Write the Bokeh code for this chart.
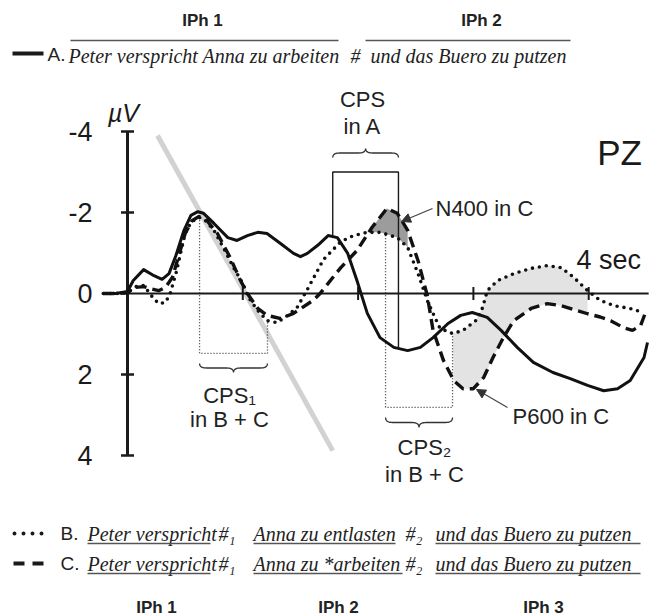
import numpy as np
from bokeh.plotting import figure
from bokeh.models import Range1d, Arrow, NormalHead
from bokeh.core.properties import value
from bokeh.embed import file_html
from bokeh.resources import INLINE

# ---------------- data ----------------
y_ticks = [-4, -2, 0, 2, 4]
y_tick_labels = ["-4", "-2", "0", "2", "4"]
x_ticks = [1, 2, 3, 4]
x_unit_label = "4 sec"
x_axis_end = 4.52

# A: solid
t_a = [-0.21, -0.10, 0.00, 0.05, 0.14, 0.23, 0.30, 0.36, 0.42, 0.49, 0.55, 0.61, 0.66, 0.75, 0.87,
       0.95, 1.04, 1.13, 1.21, 1.33, 1.44, 1.50, 1.56, 1.65, 1.74, 1.82, 1.91, 1.99, 2.08, 2.19,
       2.31, 2.43, 2.54, 2.65, 2.78, 2.89, 2.99, 3.12, 3.24, 3.38, 3.52, 3.69, 3.84, 3.99, 4.13,
       4.25, 4.36, 4.48, 4.51]
v_a = [0, 0, -0.05, -0.32, -0.59, -0.44, -0.35, -0.49, -0.94, -1.56, -1.93, -2.02, -1.98, -1.73, -1.38,
       -1.31, -1.43, -1.51, -1.48, -1.23, -0.99, -0.91, -0.99, -1.19, -1.43, -1.38, -0.99, -0.32, 0.49, 1.09,
       1.33, 1.41, 1.33, 1.09, 0.74, 0.54, 0.47, 0.59, 0.91, 1.33, 1.70, 1.95, 2.10, 2.27, 2.40,
       2.35, 2.15, 1.58, 1.21]

# B: dotted
t_b = [-0.21, -0.10, 0.00, 0.07, 0.14, 0.22, 0.27, 0.33, 0.37, 0.42, 0.46, 0.50, 0.55, 0.61, 0.66,
       0.75, 0.83, 0.92, 1.00, 1.05, 1.13, 1.21, 1.30, 1.39, 1.47, 1.56, 1.70, 1.85, 1.96, 2.08,
       2.19, 2.34, 2.43, 2.52, 2.60, 2.65, 2.71, 2.82, 2.91, 3.02, 3.08, 3.12, 3.21, 3.35, 3.50,
       3.64, 3.76, 3.87, 3.99, 4.10, 4.22, 4.36, 4.47]
v_b = [0, 0, -0.02, -0.17, -0.20, 0.10, 0.25, 0.22, 0.0, -0.49, -0.99, -1.48, -1.75, -1.88, -1.85,
       -1.56, -1.14, -0.64, -0.25, 0.10, 0.42, 0.67, 0.72, 0.54, 0.35, -0.10, -0.84, -1.28, -1.43, -1.51,
       -1.51, -1.38, -1.14, -0.49, 0.17, 0.49, 0.86, 0.99, 0.91, 0.67, 0.35, -0.07, -0.32, -0.49, -0.62,
       -0.69, -0.64, -0.40, -0.07, 0.17, 0.30, 0.37, 0.47]

# C: dashed
t_c = [-0.21, -0.10, 0.00, 0.07, 0.14, 0.20, 0.27, 0.33, 0.39, 0.44, 0.50, 0.56, 0.62, 0.69, 0.78,
       0.89, 0.98, 1.04, 1.13, 1.21, 1.33, 1.44, 1.61, 1.67, 1.85, 1.99, 2.12, 2.25, 2.34, 2.43,
       2.52, 2.60, 2.65, 2.74, 2.83, 2.91, 3.00, 3.09, 3.17, 3.26, 3.35, 3.50, 3.64, 3.76, 3.90,
       3.99, 4.10, 4.19, 4.30, 4.38, 4.45, 4.49]
v_c = [0, 0, -0.02, -0.15, -0.17, -0.12, -0.07, -0.15, -0.40, -0.89, -1.48, -1.80, -1.90, -1.80, -1.48,
       -0.89, -0.32, 0.0, 0.37, 0.54, 0.62, 0.49, 0.17, 0.0, -0.64, -1.06, -1.63, -2.10, -1.98, -1.56,
       -0.81, 0.05, 0.91, 1.65, 2.15, 2.35, 2.35, 2.07, 1.58, 1.09, 0.67, 0.37, 0.25, 0.30, 0.42,
       0.50, 0.58, 0.67, 0.84, 0.91, 0.79, 0.49]

# CPS windows (s) and box edges (µV)
cpsA_window = [1.78, 2.35]
cpsA_top = -3.0
cpsA_feet = [-1.43, 1.33]
cps1_window = [0.625, 1.214]
cps1_bottom = 1.48
cps1_heads = [-1.88, 0.67]
cps2_window = [2.238, 2.819]
cps2_bottom = 2.81
cps2_heads = [-1.51, 0.99]

# effect windows (s)
n400_window = [2.05, 2.45]
p600_window = [2.80, 4.00]

# grey slope line
slope_t = [0.26, 1.78]
slope_v = [-3.9, 3.88]

# ---------------- layout helpers ----------------
W, H = 649, 616
PX_PER_S, PX_PER_UV = 115.3, 40.5
X0_PX, Y0_PX = 127, 293


def tx(px):
    return (px - X0_PX) / PX_PER_S


def vy(py):
    return (py - Y0_PX) / PX_PER_UV


p = figure(width=W, height=H, output_backend="svg", toolbar_location=None,
           x_range=Range1d(tx(0), tx(W)), y_range=Range1d(vy(H), vy(0)),
           x_axis_type=None, y_axis_type=None, min_border=0)
p.outline_line_color = None
p.background_fill_color = "white"
p.border_fill_color = "white"

INK = "#1a1a1a"
SANS = value("Liberation Sans")
SERIF = value("Liberation Serif")


def band(t1, v1, t2, v2, win):
    a = [(t, v) for t, v in zip(t1, v1) if win[0] <= t <= win[1]]
    b = [(t, v) for t, v in zip(t2, v2) if win[0] <= t <= win[1]][::-1]
    pts = a + b
    return [q[0] for q in pts], [q[1] for q in pts]


# shaded effects
xs, ys = band(t_b, v_b, t_c, v_c, p600_window)
p.patch(xs, ys, fill_color="#e3e3e3", line_color=None)
xs, ys = band(t_c, v_c, t_b, v_b, n400_window)
p.patch(xs, ys, fill_color="#9c9c9c", line_color=None)

# grey slope
p.line(slope_t, slope_v, line_color="#d2d2d2", line_width=5)

# axes
p.line([0, 0], [min(y_ticks), max(y_ticks)], line_color=INK, line_width=3)
p.line([0, x_axis_end], [0, 0], line_color=INK, line_width=2)
p.scatter([0] * 4, [v for v in y_ticks if v != 0], marker="dash", size=13,
          line_color=INK, line_width=2.5)
p.scatter(x_ticks, [0] * len(x_ticks), marker="dash", angle=np.pi / 2, size=13,
          line_color=INK, line_width=2)

# CPS boxes
p.line([cpsA_window[0], cpsA_window[0], cpsA_window[1], cpsA_window[1]],
       [cpsA_feet[0], cpsA_top, cpsA_top, cpsA_feet[1]], line_color=INK, line_width=1.4)
for win, bot, heads in [(cps1_window, cps1_bottom, cps1_heads), (cps2_window, cps2_bottom, cps2_heads)]:
    p.line([win[0], win[0], win[1], win[1]], [heads[0], bot, bot, heads[1]],
           line_color="#333", line_width=1.3, line_dash="1 2")


def quad(p0, c, p1, n=10):
    s = np.linspace(0, 1, n)
    x = (1 - s) ** 2 * p0[0] + 2 * (1 - s) * s * c[0] + s ** 2 * p1[0]
    y = (1 - s) ** 2 * p0[1] + 2 * (1 - s) * s * c[1] + s ** 2 * p1[1]
    return list(x), list(y)


def brace(x0, x1, y_end, y_tip, r_px=7):
    xm = (x0 + x1) / 2
    ym = (y_end + y_tip) / 2
    r = r_px / PX_PER_S
    X, Y = [], []
    for seg in [((x0, y_end), (x0, ym), (x0 + r, ym)),
                ((xm - r, ym), (xm, ym), (xm, y_tip)),
                ((xm, y_tip), (xm, ym), (xm + r, ym)),
                ((x1 - r, ym), (x1, ym), (x1, y_end))]:
        a, b = quad(*seg)
        X += a
        Y += b
    return X, Y


for win, ye, yt in [(cpsA_window, vy(157), vy(148)), (cps1_window, vy(363), vy(372)),
                    (cps2_window, vy(417), vy(427))]:
    bx, by = brace(win[0], win[1], ye, yt)
    p.line(bx, by, line_color="#333", line_width=1.3)

# ERP curves
p.line(t_a, v_a, line_color="#111", line_width=3, line_join="round")
p.line(t_b, v_b, line_color="#111", line_width=3.6, line_dash="0 7", line_cap="round")
p.line(t_c, v_c, line_color="#111", line_width=3.4, line_dash="11 6")

# arrows
for (xa, ya, xb, yb) in [(432, 208, 401, 221), (507, 407, 476, 389)]:
    p.add_layout(Arrow(end=NormalHead(size=9, fill_color="#333", line_color="#333"),
                       x_start=tx(xa), y_start=vy(ya), x_end=tx(xb), y_end=vy(yb),
                       line_color="#444", line_width=1.2))

# tick labels
p.text([tx(92)] * len(y_ticks), y_ticks, text=y_tick_labels, text_font=SANS, text_font_size="27px",
       text_align="right", text_baseline="middle", text_color=INK)
p.text([tx(123)], [vy(112)], text=["µV"], text_font=SANS, text_font_size="25px",
       text_font_style="italic", text_align="center", text_baseline="middle", text_color=INK)
p.text([tx(576)], [vy(259)], text=[x_unit_label], text_font=SANS, text_font_size="27px",
       text_align="left", text_baseline="middle", text_color=INK)
p.text([tx(619)], [vy(152)], text=["PZ"], text_font=SANS, text_font_size="35px",
       text_align="center", text_baseline="middle", text_color=INK)

# component labels
p.text([tx(362), tx(362), tx(229), tx(229), tx(424), tx(424)],
       [vy(99), vy(126), vy(395), vy(419), vy(447), vy(474)],
       text=["CPS", "in A", "CPS₁", "in B + C", "CPS₂", "in B + C"],
       text_font=SANS, text_font_size="22px", text_align="center", text_baseline="middle",
       text_color="#222")
p.text([tx(435), tx(512)], [vy(208), vy(416)], text=["N400 in C", "P600 in C"],
       text_font=SANS, text_font_size="22px", text_align="left", text_baseline="middle",
       text_color="#222")

# ---------------- sentence rows ----------------
p.text([tx(202), tx(481), tx(156), tx(338), tx(543)],
       [vy(20), vy(20), vy(607), vy(607), vy(607)],
       text=["IPh 1", "IPh 2", "IPh 1", "IPh 2", "IPh 3"], text_font=SANS,
       text_font_size="17px", text_font_style="bold", text_align="center",
       text_baseline="middle", text_color="#222")

# legend keys
p.line([tx(12), tx(43)], [vy(53)] * 2, line_color=INK, line_width=4)
p.line([tx(14), tx(42)], [vy(533)] * 2, line_color=INK, line_width=4, line_dash="0 9",
       line_cap="round")
p.line([tx(13), tx(44)], [vy(563)] * 2, line_color=INK, line_width=4, line_dash="11 8")

p.text([tx(47), tx(60), tx(60)], [vy(54), vy(533), vy(563)], text=["A.", "B.", "C."],
       text_font=SANS, text_font_size="19px", text_align="left", text_baseline="middle",
       text_color="#222")

row_txt = ["Peter verspricht Anna zu arbeiten", "#", "und das Buero zu putzen",
           "Peter verspricht", "#₁", "Anna zu entlasten", "#₂", "und das Buero zu putzen",
           "Peter verspricht", "#₁", "Anna zu *arbeiten", "#₂", "und das Buero zu putzen"]
row_x = [68, 350, 370, 87, 218, 253, 405, 435, 87, 218, 253, 405, 435]
row_y = [55] * 3 + [533] * 5 + [563] * 5
p.text([tx(v) for v in row_x], [vy(v) for v in row_y], text=row_txt, text_font=SERIF,
       text_font_size="20px", text_font_style="italic", text_align="left",
       text_baseline="middle", text_color="#222")

# over / underlines
rules = [(70, 338, 40), (365, 570, 40),
         (87, 210, 543), (253, 395, 543), (435, 640, 543),
         (87, 210, 573), (253, 402, 573), (435, 640, 573)]
p.segment([tx(a) for a, b, c in rules], [vy(c) for a, b, c in rules],
          [tx(b) for a, b, c in rules], [vy(c) for a, b, c in rules],
          line_color="#555", line_width=1.5)

open("out.html", "w").write(file_html(p, INLINE))
